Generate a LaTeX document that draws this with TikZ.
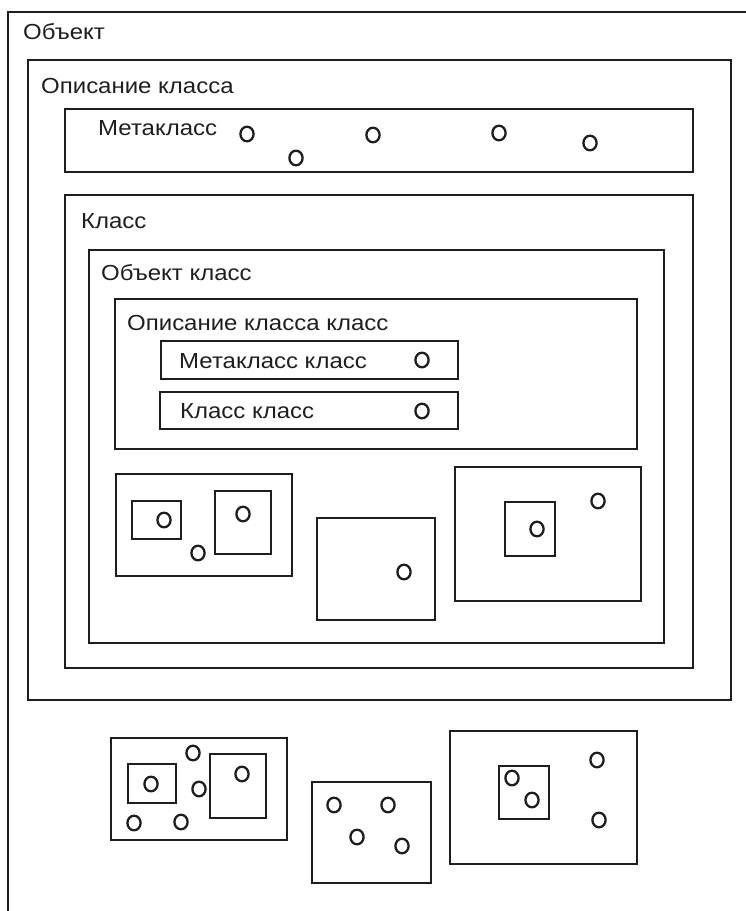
\documentclass[tikz,border=0pt]{standalone}
\usepackage{fontspec}
\setmainfont[FakeStretch=1.1]{Liberation Sans}
\definecolor{ink}{HTML}{1E1E1E}
\tikzset{
  box/.style={draw=ink, line width=2.6pt},
  dot/.style={draw=ink, line width=2.3pt},
  lbl/.style={anchor=base west, inner sep=0pt, text=ink, font=\fontsize{21.8}{26}\selectfont}
}
\newcommand{\dotat}[2]{\draw[dot] (#1,#2) ellipse [x radius=6.6, y radius=7.3];}
\begin{document}
\begin{tikzpicture}[x=1pt,y=-1pt]
\useasboundingbox (0,0) rectangle (746,911);
% outer object frame (open to right and bottom)
\draw[box] (8,920) -- (8,12) -- (760,12);
\node[lbl] (tObj) at (23,39) {Объект};
% class description
\draw[box] (28,60) rectangle (731,700);
\node[lbl] (tDesc) at (41,93) {Описание класса};
% metaclass
\draw[box] (65,109) rectangle (693,172);
\node[lbl] (tMeta) at (98,135) {Метакласс};
\dotat{247}{134}\dotat{296}{158}\dotat{373}{135}\dotat{499}{133}\dotat{590}{143}
% class
\draw[box] (65,195) rectangle (693,668);
\node[lbl] (tCls) at (81,228) {Класс};
% object class
\draw[box] (89,250) rectangle (664,643);
\node[lbl] (tObjCls) at (101,280) {Объект класс};
% class description class
\draw[box] (115,299) rectangle (637,449);
\node[lbl] (tDescCls) at (127,330) {Описание класса класс};
\draw[box] (161,341) rectangle (458,379);
\node[lbl] (tMetaCls) at (179,368) {Метакласс класс};
\dotat{422}{360}
\draw[box] (160,392) rectangle (458,429);
\node[lbl] (tClsCls) at (180,418) {Класс класс};
\dotat{422}{411}
% inner groups
\draw[box] (116,474) rectangle (292,576);
\draw[box] (132,501) rectangle (181,539);
\dotat{164}{520}
\draw[box] (215,491) rectangle (271,554);
\dotat{243}{514}
\dotat{198}{553}
\draw[box] (317,518) rectangle (435,620);
\dotat{404}{572}
\draw[box] (455,467) rectangle (641,601);
\draw[box] (505,502) rectangle (555,556);
\dotat{537}{529}
\dotat{598}{501}
% outer groups
\draw[box] (111,738) rectangle (287,840);
\draw[box] (128,764) rectangle (176,803);
\dotat{151}{784}
\draw[box] (210,754) rectangle (266,818);
\dotat{242}{774}
\dotat{193}{753}\dotat{199}{789}\dotat{134}{823}\dotat{181}{822}
\draw[box] (312,782) rectangle (431,883);
\dotat{334}{805}\dotat{388}{805}\dotat{357}{837}\dotat{402}{846}
\draw[box] (450,731) rectangle (637,864);
\draw[box] (499,766) rectangle (549,819);
\dotat{512}{778}\dotat{532}{800}
\dotat{597}{760}\dotat{599}{820}
\end{tikzpicture}
\end{document}
